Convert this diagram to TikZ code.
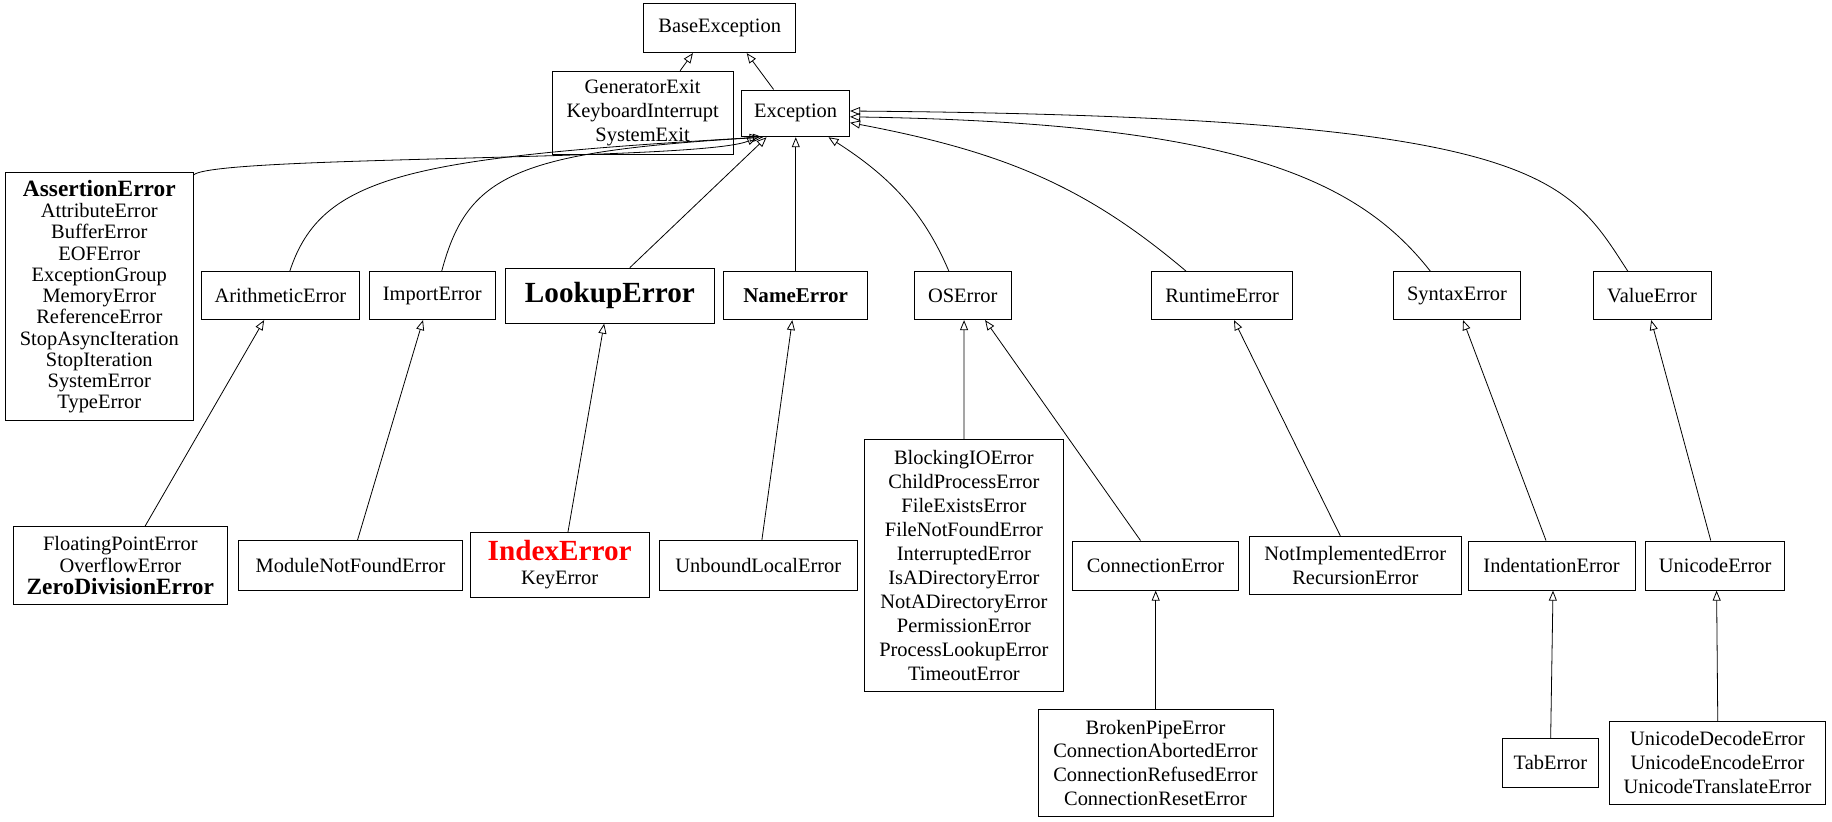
\documentclass[tikz,border=0pt]{standalone}
\usepackage{fontspec}
\setmainfont{Liberation Serif}
\usetikzlibrary{arrows.meta}
\begin{document}
\begin{tikzpicture}[x=1pt,y=-1pt,scale=1.1684,every node/.append style={transform shape},
 box/.style={draw,line width=0.9pt,rectangle,align=center,font=\fontsize{17.5}{20.5}\selectfont,inner sep=3pt},
 inh/.style={draw,line width=0.8pt,-{Triangle[open,length=10pt,width=8pt]}}]
\useasboundingbox (0,0) rectangle (1568,702.7);
\node[box,minimum width=130,minimum height=42] (base) at (616,24) {BaseException};
\node[box,minimum width=155,minimum height=71] (gen) at (550,96.5) {GeneratorExit\\KeyboardInterrupt\\SystemExit};
\node[box,minimum width=92,minimum height=40] (exc) at (681,97) {Exception};
\node[box,minimum width=161,minimum height=212,font=\fontsize{17.5}{18.2}\selectfont] (ass) at (85,254) {{\fontsize{20}{20}\selectfont\bfseries AssertionError}\\AttributeError\\BufferError\\EOFError\\ExceptionGroup\\MemoryError\\ReferenceError\\StopAsyncIteration\\StopIteration\\SystemError\\TypeError};
\node[box,minimum width=135,minimum height=41] (ari) at (240,253) {ArithmeticError};
\node[box,minimum width=108,minimum height=41] (imp) at (370,253) {ImportError};
\node[box,minimum width=179,minimum height=47,font=\fontsize{25}{27}\selectfont\bfseries] (look) at (522,253) {LookupError};
\node[box,minimum width=123,minimum height=41,font=\fontsize{18}{20}\selectfont\bfseries] (name) at (681,253) {NameError};
\node[box,minimum width=83,minimum height=41] (os) at (824,253) {OSError};
\node[box,minimum width=121,minimum height=41] (run) at (1046,253) {RuntimeError};
\node[box,minimum width=108,minimum height=41] (syn) at (1247,253) {SyntaxError};
\node[box,minimum width=101,minimum height=41] (val) at (1414,253) {ValueError};
\node[box,minimum width=183,minimum height=66,font=\fontsize{17.5}{19}\selectfont] (flo) at (103,484) {FloatingPointError\\OverflowError\\{\fontsize{20}{20}\selectfont\bfseries ZeroDivisionError}};
\node[box,minimum width=191,minimum height=43] (mod) at (300,484) {ModuleNotFoundError};
\node[box,minimum width=153,minimum height=55] (idx) at (479,483.5) {{\fontsize{25}{25}\selectfont\bfseries\color{red}IndexError}\\KeyError};
\node[box,minimum width=169,minimum height=43] (unb) at (649,484) {UnboundLocalError};
\node[box,minimum width=170,minimum height=215] (blk) at (825,484) {BlockingIOError\\ChildProcessError\\FileExistsError\\FileNotFoundError\\InterruptedError\\IsADirectoryError\\NotADirectoryError\\PermissionError\\ProcessLookupError\\TimeoutError};
\node[box,minimum width=142,minimum height=42] (con) at (989,484) {ConnectionError};
\node[box,minimum width=182,minimum height=50] (ni) at (1160,484) {NotImplementedError\\RecursionError};
\node[box,minimum width=143,minimum height=42] (ind) at (1328,484) {IndentationError};
\node[box,minimum width=119,minimum height=42] (uni) at (1468,484) {UnicodeError};
\node[box,minimum width=201,minimum height=91] (brk) at (989,653) {BrokenPipeError\\ConnectionAbortedError\\ConnectionRefusedError\\ConnectionResetError};
\node[box,minimum width=83,minimum height=42] (tab) at (1327,653) {TabError};
\node[box,minimum width=185,minimum height=71] (ud) at (1470,653) {UnicodeDecodeError\\UnicodeEncodeError\\UnicodeTranslateError};
% edges
\draw[inh] ([xshift=32]gen.north) -- ([xshift=-23]base.south);
\draw[inh] ([xshift=-19]exc.north) -- ([xshift=23]base.south);
\draw[inh] ([yshift=-2]ass.north east) .. controls (185,133) and (600,138) .. ([xshift=-33]exc.south);
\draw[inh] ([xshift=8]ari.north) .. controls (275,150) and (350,135) .. ([xshift=-31]exc.south);
\draw[inh] ([xshift=8]imp.north) .. controls (400,150) and (440,130) .. ([xshift=-28]exc.south);
\draw[inh] ([xshift=17]look.north) -- ([xshift=-25]exc.south);
\draw[inh] (name.north) -- (exc.south);
\draw[inh] ([xshift=-12]os.north) .. controls (790,180) and (760,150) .. ([xshift=28]exc.south);
\draw[inh] ([xshift=-31]run.north) .. controls (930,160) and (860,130) .. ([yshift=-8]exc.east);
\draw[inh] ([xshift=-23]syn.north) .. controls (1160,150) and (1050,105) .. ([yshift=-3]exc.east);
\draw[inh] ([xshift=-21]val.north) .. controls (1340,150) and (1320,100) .. ([yshift=2]exc.east);
\draw[inh] ([xshift=21]flo.north) -- ([xshift=-14]ari.south);
\draw[inh] ([xshift=6]mod.north) -- ([xshift=-8]imp.south);
\draw[inh] ([xshift=7]idx.north) -- ([xshift=-5]look.south);
\draw[inh] ([xshift=3]unb.north) -- ([xshift=-3]name.south);
\draw[inh] (blk.north) -- ([xshift=1]os.south);
\draw[inh] ([xshift=-13]con.north) -- ([xshift=19]os.south);
\draw[inh] ([xshift=-13]ni.north) -- ([xshift=10]run.south);
\draw[inh] ([xshift=-5]ind.north) -- ([xshift=5]syn.south);
\draw[inh] ([xshift=-4]uni.north) -- ([xshift=-1]val.south);
\draw[inh] (brk.north) -- (con.south);
\draw[inh] (tab.north) -- ([xshift=1]ind.south);
\draw[inh] (ud.north) -- ([xshift=1]uni.south);
\end{tikzpicture}
\end{document}
